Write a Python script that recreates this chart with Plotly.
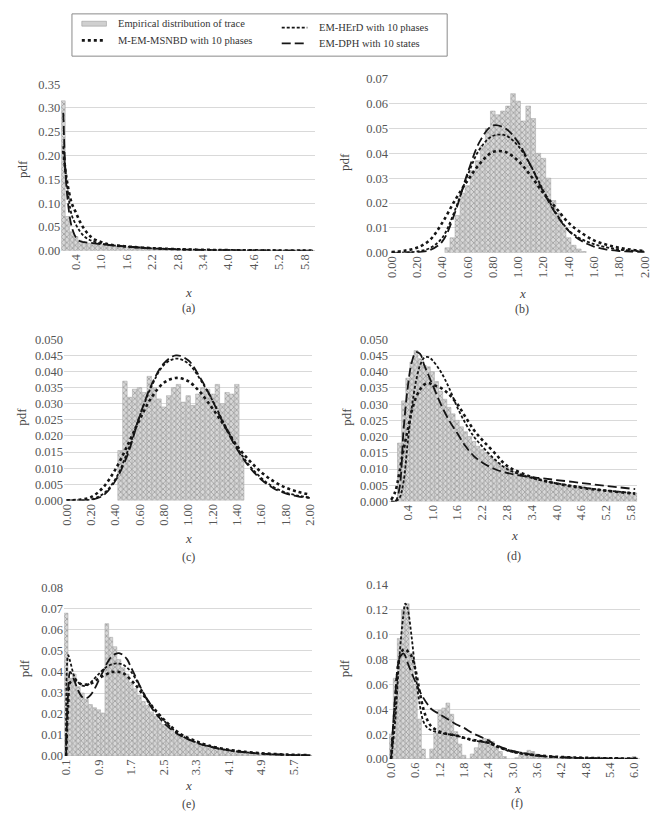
import plotly.graph_objects as go

W, H = 658, 823

# ---------------- data ----------------
# (a)
a_hist = [0.315, 0.072, 0.040, 0.030, 0.022, 0.018, 0.016, 0.015, 0.014, 0.013,
          0.012, 0.011, 0.010, 0.009, 0.008, 0.0075, 0.007, 0.0065, 0.006, 0.0055,
          0.005, 0.0045, 0.004, 0.0037, 0.0034, 0.003, 0.0028, 0.0025, 0.0023, 0.002,
          0.0018, 0.0016, 0.0015, 0.0013, 0.0012, 0.0011, 0.001, 0.0009, 0.0009, 0.0008,
          0.0008, 0.0007, 0.0007, 0.0006, 0.0006, 0.0005, 0.0005, 0.0005, 0.0004, 0.0004,
          0.0004, 0.0003, 0.0003, 0.0003, 0.0003, 0.0002, 0.0002, 0.0002, 0.0002, 0.0002]
a_cx = [0.1, 0.15, 0.2, 0.3, 0.4, 0.5, 0.6, 0.7, 0.8, 1.0, 1.2, 1.6, 2.0, 2.5, 3.0, 3.5, 4.0, 5.0, 6.0]
a_dph = [0.29, 0.17, 0.11, 0.05, 0.028, 0.02, 0.018, 0.017, 0.016, 0.014, 0.012, 0.009, 0.006, 0.004, 0.0025, 0.0017, 0.0012, 0.0006, 0.0003]
a_herd = [0.22, 0.17, 0.13, 0.075, 0.055, 0.04, 0.03, 0.024, 0.02, 0.015, 0.012, 0.009, 0.0065, 0.0042, 0.0027, 0.0018, 0.0012, 0.0006, 0.0003]
a_msnbd = [0.21, 0.17, 0.14, 0.10, 0.08, 0.06, 0.045, 0.034, 0.026, 0.018, 0.013, 0.009, 0.0065, 0.0043, 0.0028, 0.0019, 0.0013, 0.0006, 0.0003]
a_ticks = [0.4, 1.0, 1.6, 2.2, 2.8, 3.4, 4.0, 4.6, 5.2, 5.8]

# (b)
b_hist = [0.002, 0.006, 0.015, 0.024, 0.027, 0.033, 0.037, 0.043, 0.050, 0.057,
          0.0555, 0.057, 0.059, 0.064, 0.061, 0.053, 0.059, 0.054, 0.040, 0.038,
          0.030, 0.021, 0.016, 0.011, 0.006, 0.003, 0.0015, 0.0005]
b_cx = [0.0, 0.1, 0.2, 0.3, 0.4, 0.5, 0.6, 0.7, 0.8, 0.9, 1.0, 1.1, 1.2, 1.3, 1.4, 1.5, 1.6, 1.7, 1.8, 1.9, 2.0]
b_msnbd = [0.0003, 0.0008, 0.002, 0.005, 0.012, 0.021, 0.029, 0.036, 0.0405, 0.0405, 0.037, 0.031, 0.024, 0.018, 0.012, 0.008, 0.005, 0.0032, 0.002, 0.0012, 0.0007]
b_herd = [0.0, 0.0001, 0.0005, 0.0018, 0.006, 0.017, 0.031, 0.042, 0.047, 0.0472, 0.043, 0.035, 0.025, 0.016, 0.009, 0.0055, 0.0035, 0.0022, 0.0013, 0.0008, 0.0005]
b_dph = [0.0, 0.0, 0.0002, 0.001, 0.0045, 0.016, 0.032, 0.045, 0.0512, 0.050, 0.0445, 0.035, 0.0245, 0.0155, 0.0088, 0.0048, 0.0025, 0.0013, 0.0007, 0.0004, 0.0002]
bc_ticks = [0.0, 0.2, 0.4, 0.6, 0.8, 1.0, 1.2, 1.4, 1.6, 1.8, 2.0]

# (c)
c_hist = [0.0155, 0.037, 0.032, 0.0345, 0.035, 0.0335, 0.0385, 0.035, 0.0315, 0.029,
          0.0325, 0.035, 0.036, 0.0305, 0.0325, 0.0295, 0.033, 0.035, 0.0345, 0.033,
          0.036, 0.030, 0.0335, 0.033, 0.036, 0.014]
c_cx = [0.0, 0.1, 0.2, 0.3, 0.4, 0.5, 0.6, 0.7, 0.8, 0.9, 1.0, 1.1, 1.2, 1.3, 1.4, 1.5, 1.6, 1.7, 1.8, 1.9, 2.0]
c_msnbd = [0.0, 0.0002, 0.001, 0.004, 0.0095, 0.017, 0.025, 0.032, 0.0365, 0.038, 0.037, 0.0335, 0.0285, 0.023, 0.017, 0.0125, 0.0088, 0.006, 0.004, 0.0027, 0.0018]
c_herd = [0.0, 0.0, 0.0003, 0.002, 0.0065, 0.015, 0.026, 0.0355, 0.042, 0.044, 0.0425, 0.0375, 0.031, 0.0235, 0.0165, 0.011, 0.007, 0.0042, 0.0025, 0.0015, 0.0009]
c_dph = [0.0, 0.0, 0.0002, 0.0015, 0.006, 0.014, 0.026, 0.036, 0.0425, 0.045, 0.0435, 0.038, 0.031, 0.023, 0.016, 0.0105, 0.0065, 0.0038, 0.0022, 0.0013, 0.0008]

# (d)
d_hist = [0.0, 0.0, 0.018, 0.031, 0.038, 0.043, 0.0465, 0.044, 0.042, 0.0415,
          0.040, 0.037, 0.034, 0.0315, 0.029, 0.027, 0.025, 0.023, 0.0215, 0.020,
          0.0185, 0.017, 0.016, 0.015, 0.014, 0.013, 0.012, 0.011, 0.0105, 0.0098,
          0.0092, 0.0087, 0.0082, 0.0078, 0.0074, 0.007, 0.0067, 0.0064, 0.0061, 0.0058,
          0.0055, 0.0053, 0.0051, 0.0049, 0.0047, 0.0045, 0.0043, 0.0041, 0.004, 0.0038,
          0.0037, 0.0035, 0.0034, 0.0033, 0.0031, 0.003, 0.0029, 0.0028, 0.0027, 0.0026]
d_cx = [0.0, 0.1, 0.2, 0.3, 0.4, 0.5, 0.6, 0.7, 0.8, 0.9, 1.0, 1.2, 1.4, 1.6, 1.8, 2.0, 2.2, 2.5, 2.8, 3.2, 3.6, 4.0, 4.6, 5.2, 5.9]
d_dph = [0.0, 0.0, 0.004, 0.022, 0.035, 0.043, 0.046, 0.0455, 0.042, 0.039, 0.036, 0.030, 0.025, 0.021, 0.017, 0.014, 0.012, 0.010, 0.0088, 0.0078, 0.0072, 0.0066, 0.0057, 0.0048, 0.0038]
d_herd = [0.0, 0.0, 0.001, 0.006, 0.018, 0.029, 0.037, 0.042, 0.0443, 0.0445, 0.0435, 0.040, 0.035, 0.029, 0.024, 0.020, 0.017, 0.013, 0.010, 0.008, 0.0066, 0.0056, 0.0044, 0.0034, 0.0025]
d_msnbd = [0.0005, 0.003, 0.009, 0.016, 0.022, 0.028, 0.032, 0.0345, 0.036, 0.0365, 0.036, 0.035, 0.033, 0.030, 0.026, 0.022, 0.019, 0.015, 0.011, 0.0085, 0.0067, 0.0055, 0.0042, 0.0033, 0.0024]

# (e)
e_hist = [0.068, 0.037, 0.039, 0.033, 0.030, 0.027, 0.0245, 0.023, 0.022, 0.0205,
          0.063, 0.0565, 0.052, 0.046, 0.042, 0.039, 0.035, 0.032, 0.029, 0.026,
          0.024, 0.021, 0.019, 0.017, 0.015, 0.0135, 0.012, 0.0105, 0.0095, 0.0088,
          0.008, 0.0072, 0.0065, 0.0058, 0.0052, 0.0047, 0.0042, 0.0038, 0.0034, 0.003,
          0.0027, 0.0024, 0.0021, 0.0019, 0.0017, 0.0015, 0.0013, 0.0012, 0.0011, 0.001,
          0.0009, 0.0008, 0.0007, 0.0006, 0.0006, 0.0005, 0.0005, 0.0004, 0.0004, 0.0003, 0.0003]
e_cx = [0.1, 0.15, 0.2, 0.3, 0.4, 0.5, 0.6, 0.7, 0.8, 0.9, 1.0, 1.1, 1.2, 1.3, 1.4, 1.5, 1.6, 1.7, 1.8, 2.0,
        2.2, 2.4, 2.6, 2.8, 3.0, 3.3, 3.6, 4.0, 4.5, 5.0, 5.5, 6.1]
e_herd = [0.0, 0.048, 0.045, 0.038, 0.035, 0.0335, 0.0335, 0.035, 0.037, 0.039, 0.041, 0.0425, 0.0435, 0.044, 0.044, 0.0435,
          0.042, 0.040, 0.037, 0.030, 0.024, 0.019, 0.015, 0.0115, 0.009, 0.0065, 0.0047, 0.003, 0.0018, 0.001, 0.0006, 0.0003]
e_dph = [0.0, 0.03, 0.040, 0.036, 0.031, 0.028, 0.0275, 0.029, 0.032, 0.036, 0.040, 0.044, 0.047, 0.0485, 0.049, 0.048,
         0.046, 0.042, 0.038, 0.030, 0.023, 0.018, 0.014, 0.011, 0.0088, 0.0064, 0.0046, 0.003, 0.0018, 0.001, 0.0006, 0.0003]
e_msnbd = [0.0, 0.025, 0.035, 0.036, 0.035, 0.034, 0.034, 0.0345, 0.0355, 0.037, 0.038, 0.039, 0.040, 0.040, 0.040, 0.0395,
           0.038, 0.036, 0.034, 0.029, 0.024, 0.0195, 0.0155, 0.012, 0.0095, 0.007, 0.005, 0.0033, 0.002, 0.0012, 0.0007, 0.0004]
e_ticks = [0.1, 0.9, 1.7, 2.5, 3.3, 4.1, 4.9, 5.7]

# (f)
f_hist = [0.02, 0.065, 0.097, 0.12, 0.125, 0.085, 0.06, 0.032, 0.008, 0.0,
          0.008, 0.021, 0.039, 0.041, 0.045, 0.036, 0.022, 0.012, 0.003, 0.0,
          0.004, 0.009, 0.0135, 0.0165, 0.016, 0.014, 0.010, 0.006, 0.002, 0.0,
          0.0, 0.001, 0.003, 0.005, 0.007, 0.006, 0.004, 0.002, 0.001, 0.0005,
          0.0005, 0.0003, 0.0003, 0.0002, 0.0002, 0.0, 0.0, 0.0, 0.0, 0.0,
          0.0, 0.0, 0.0, 0.0, 0.0, 0.0, 0.0, 0.0, 0.0, 0.0, 0.002, 0.0]
f_cx = [0.0, 0.1, 0.2, 0.3, 0.35, 0.4, 0.5, 0.6, 0.7, 0.8, 0.9, 1.0, 1.2, 1.4, 1.6, 1.8, 2.0, 2.2, 2.4, 2.6,
        2.8, 3.0, 3.3, 3.6, 4.0, 4.5, 5.0, 5.5, 6.1]
f_herd = [0.0, 0.03, 0.08, 0.115, 0.125, 0.122, 0.10, 0.07, 0.045, 0.030, 0.025, 0.023, 0.021, 0.020, 0.019, 0.017,
          0.015, 0.014, 0.013, 0.010, 0.0075, 0.0055, 0.0038, 0.0026, 0.0016, 0.001, 0.0006, 0.0004, 0.0002]
f_msnbd = [0.0, 0.045, 0.08, 0.088, 0.088, 0.087, 0.083, 0.072, 0.055, 0.040, 0.031, 0.026, 0.022, 0.020, 0.019, 0.017,
           0.0155, 0.0145, 0.013, 0.0105, 0.008, 0.006, 0.0042, 0.003, 0.0019, 0.0012, 0.0008, 0.0005, 0.0003]
f_dph = [0.0, 0.05, 0.08, 0.085, 0.083, 0.078, 0.07, 0.062, 0.055, 0.049, 0.044, 0.040, 0.036, 0.032, 0.028, 0.025,
         0.021, 0.018, 0.015, 0.011, 0.0085, 0.0065, 0.0045, 0.003, 0.0018, 0.001, 0.0006, 0.0004, 0.0002]
f_ticks = [0.0, 0.6, 1.2, 1.8, 2.4, 3.0, 3.6, 4.2, 4.8, 5.4, 6.0]

legend_labels = ["Empirical distribution of trace", "M-EM-MSNBD with 10 phases",
                 "EM-HErD with 10 phases", "EM-DPH with 10 states"]

# ---------------- layout helpers ----------------
def dx_(x):
    return x / W

def dy_(y):
    return 1 - y / H

SERIF = "Liberation Serif"
TICKCOL = "#555555"
TFS = 12.5

panels = [
    dict(h=a_hist, x0=0.1, step=0.1, cx=a_cx, m=a_msnbd, he=a_herd, dp=a_dph,
         xb=(57, 315), yb=(78.5, 248), xr=[0.05, 6.05], yr=[0, 0.35], dt=0.05, yf=".2f",
         xt=a_ticks, xf=".1f", pdf=(17, 165), xl=(186, 290), cap=(186, 306, "(a)")),
    dict(h=b_hist, x0=0.44, step=0.04, cx=b_cx, m=b_msnbd, he=b_herd, dp=b_dph,
         xb=(390, 652), yb=(73, 250), xr=[-0.02, 2.02], yr=[0, 0.07], dt=0.01, yf=".2f",
         xt=bc_ticks, xf=".2f", pdf=(345, 158), xl=(525, 291), cap=(525, 307, "(b)")),
    dict(h=c_hist, x0=0.44, step=0.04, cx=c_cx, m=c_msnbd, he=c_herd, dp=c_dph,
         xb=(60, 312), yb=(338, 502), xr=[-0.02, 2.02], yr=[0, 0.05], dt=0.005, yf=".3f",
         xt=bc_ticks, xf=".2f", pdf=(17, 417), xl=(186, 541), cap=(186, 560, "(c)")),
    dict(h=d_hist, x0=0.0, step=0.1, cx=d_cx, m=d_msnbd, he=d_herd, dp=d_dph,
         xb=(390, 642), yb=(338, 503), xr=[-0.05, 5.95], yr=[0, 0.05], dt=0.005, yf=".3f",
         xt=a_ticks, xf=".1f", pdf=(347, 417), xl=(517, 538), cap=(517, 559, "(d)")),
    dict(h=e_hist, x0=0.1, step=0.1, cx=e_cx, m=e_msnbd, he=e_herd, dp=e_dph,
         xb=(60, 312), yb=(591, 762), xr=[0.05, 6.15], yr=[0, 0.08], dt=0.01, yf=".2f",
         xt=e_ticks, xf=".1f", pdf=(20, 673), xl=(186, 792), cap=(186, 811, "(e)")),
    dict(h=f_hist, x0=0.0, step=0.1, cx=f_cx, m=f_msnbd, he=f_herd, dp=f_dph,
         xb=(390, 645), yb=(588, 765), xr=[-0.05, 6.15], yr=[0, 0.14], dt=0.02, yf=".2f",
         xt=f_ticks, xf=".1f", pdf=(345, 673), xl=(520, 795), cap=(520, 810, "(f)")),
]

LINE_COL = "#151515"
STY = {
    "m": dict(color=LINE_COL, width=2.6, dash="dot"),
    "he": dict(color=LINE_COL, width=1.8, dash="3px,2px"),
    "dp": dict(color=LINE_COL, width=1.8, dash="9px,4px"),
}

fig = go.Figure()
layout = dict(
    width=W, height=H, margin=dict(l=0, r=0, t=0, b=0),
    paper_bgcolor="white", plot_bgcolor="white", showlegend=False,
    bargap=0.08,
)
annotations = []
shapes = []

def note(x, y, text, size, color="#444", angle=0, xanchor="center"):
    annotations.append(dict(x=dx_(x), y=dy_(y), xref="paper", yref="paper",
                            xanchor=xanchor, yanchor="middle", text=text,
                            textangle=angle, showarrow=False,
                            font=dict(family=SERIF, size=size, color=color)))

for i, p in enumerate(panels, start=1):
    xa = "x" if i == 1 else f"x{i}"
    ya = "y" if i == 1 else f"y{i}"
    fig.add_trace(go.Bar(
        x0=p["x0"], dx=p["step"], y=p["h"], xaxis=xa, yaxis=ya,
        width=p["step"] * 0.92,
        marker=dict(color="#d2d2d2", line=dict(color="#a0a0a0", width=0.5),
                    pattern=dict(shape="x", fgcolor="#888888", bgcolor="#d8d8d8",
                                 size=4, solidity=0.28, fillmode="replace")),
    ))
    for key in ["m", "he", "dp"]:
        fig.add_trace(go.Scatter(x=p["cx"], y=p[key], mode="lines", line_shape="spline",
                                 line=STY[key], xaxis=xa, yaxis=ya))
    xkey = "xaxis" if i == 1 else f"xaxis{i}"
    ykey = "yaxis" if i == 1 else f"yaxis{i}"
    layout[xkey] = dict(
        domain=[dx_(p["xb"][0]), dx_(p["xb"][1])], anchor=ya, range=p["xr"],
        tickmode="array", tickvals=p["xt"], tickformat=p["xf"], tickangle=-90,
        showgrid=False, zeroline=False, showline=False, ticks="",
        tickfont=dict(family=SERIF, size=TFS, color=TICKCOL),
    )
    layout[ykey] = dict(
        domain=[dy_(p["yb"][1]), dy_(p["yb"][0])], anchor=xa, range=p["yr"],
        dtick=p["dt"], tickformat=p["yf"], showgrid=True, gridcolor="#d9d9d9",
        gridwidth=1, zeroline=False, showline=False, ticks="",
        tickfont=dict(family=SERIF, size=TFS, color=TICKCOL),
    )
    note(p["pdf"][0], p["pdf"][1], "pdf", 13, angle=-90)
    note(p["xl"][0], p["xl"][1], "<i>x</i>", 13)
    note(p["cap"][0], p["cap"][1], p["cap"][2], 12)

# ---------------- legend box ----------------
shapes.append(dict(type="rect", xref="paper", yref="paper",
                   x0=dx_(68), x1=dx_(449), y0=dy_(50), y1=dy_(7),
                   line=dict(color="#8a8a8a", width=1), fillcolor="white"))
shapes.append(dict(type="rect", xref="paper", yref="paper",
                   x0=dx_(78), x1=dx_(103), y0=dy_(19.5), y1=dy_(14.5),
                   line=dict(color="#9a9a9a", width=0.6), fillcolor="#d0d0d0"))
leg_lines = [((78, 101, 34), STY["m"]), ((281, 307, 21), STY["he"]), ((281, 307, 37), STY["dp"])]
for (xa0, xa1, yy), st in leg_lines:
    shapes.append(dict(type="line", xref="paper", yref="paper",
                       x0=dx_(xa0), x1=dx_(xa1), y0=dy_(yy), y1=dy_(yy),
                       line=dict(color=st["color"], width=st["width"], dash=st["dash"])))
leg_pos = [(113, 17), (113, 34), (317, 21), (317, 37)]
for lab, (lx, ly) in zip(legend_labels, leg_pos):
    note(lx, ly, lab, 10.5, color="#333", xanchor="left")

layout["annotations"] = annotations
layout["shapes"] = shapes
fig.update_layout(**layout)
fig.write_html("out.html")
